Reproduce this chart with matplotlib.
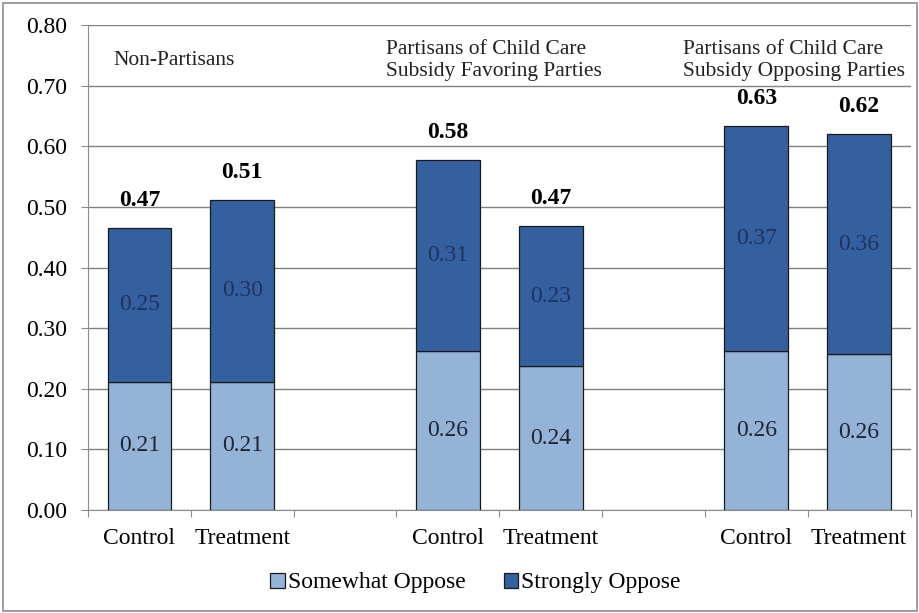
import numpy as np
import matplotlib.pyplot as plt
from matplotlib.patches import Rectangle

plt.rcParams['font.family'] = ['Liberation Serif', 'DejaVu Serif']

# values
categories = ["Control", "Treatment", "", "Control", "Treatment", "", "Control", "Treatment"]
bar_slots = [0, 1, 3, 4, 6, 7]
somewhat = [0.212, 0.212, 0.263, 0.237, 0.262, 0.257]
strongly = [0.254, 0.300, 0.314, 0.231, 0.371, 0.363]
group_labels = ["Non-Partisans",
                "Partisans of Child Care\nSubsidy Favoring Parties",
                "Partisans of Child Care\nSubsidy Opposing Parties"]
group_label_x = [-0.255, 2.40, 5.285]
series_names = ["Somewhat Oppose", "Strongly Oppose"]

light = "#95b3d7"
dark = "#3560a0"
fs = 17

fig = plt.figure(figsize=(9.2, 6.13), dpi=100)
ax = fig.add_axes([0.0957, 0.168, 0.894, 0.791])

x = np.array(bar_slots)
somewhat = np.array(somewhat)
strongly = np.array(strongly)
b1 = ax.bar(x, somewhat, width=0.62, color=light, edgecolor="#1a1a1a", linewidth=0.9,
            label=series_names[0], zorder=3)
b2 = ax.bar(x, strongly, bottom=somewhat, width=0.62, color=dark, edgecolor="#1a1a1a",
            linewidth=0.9, label=series_names[1], zorder=3)

for xi, s, t in zip(x, somewhat, strongly):
    ax.text(xi, s / 2, f"{s:.2f}", ha="center", va="center", fontsize=fs, color="#1c2438", zorder=4)
    ax.text(xi, s + t / 2, f"{t:.2f}", ha="center", va="center", fontsize=fs, color="#1f3360", zorder=4)
    ax.text(xi, s + t + 0.028, f"{s + t:.2f}", ha="center", va="bottom", fontsize=fs,
            fontweight="bold", color="black", zorder=4)

for gx, lab in zip(group_label_x, group_labels):
    ax.text(gx, 0.742, lab, ha="left", va="center", fontsize=15.5, color="#222222",
            linespacing=1.25)

ax.set_xlim(-0.5, 7.5)
ax.set_ylim(0, 0.8)
ax.set_yticks(np.arange(0, 0.81, 0.1))
ax.set_yticklabels([f"{v:.2f}" for v in np.arange(0, 0.81, 0.1)], fontsize=fs)
ax.yaxis.grid(True, color="#808080", linewidth=1.0, zorder=0)
ax.set_axisbelow(True)

ax.set_xticks(np.arange(-0.5, 8, 1.0))
ax.set_xticklabels([])
ax.set_xticks(np.arange(0, 8), minor=True)
ax.set_xticklabels(categories, minor=True, fontsize=fs)
ax.tick_params(axis="x", which="minor", length=0, pad=13)
ax.tick_params(axis="x", which="major", length=5, color="#8c8c8c")
ax.tick_params(axis="y", length=5, color="#8c8c8c", pad=10)

for side in ["top", "right"]:
    ax.spines[side].set_visible(False)
for side in ["left", "bottom"]:
    ax.spines[side].set_color("#8c8c8c")

fig.legend(handles=[b1, b2], labels=series_names, loc="center", bbox_to_anchor=(0.517, 0.049),
           ncol=2, frameon=False, fontsize=fs, handlelength=0.6, handleheight=0.6,
           handletextpad=0.15, columnspacing=1.6)

fig.patches.append(Rectangle((0.003, 0.003), 0.994, 0.992, transform=fig.transFigure,
                             fill=False, edgecolor="#8c8c8c", linewidth=1.2))

fig.savefig("out.png", dpi=100, facecolor="white")
